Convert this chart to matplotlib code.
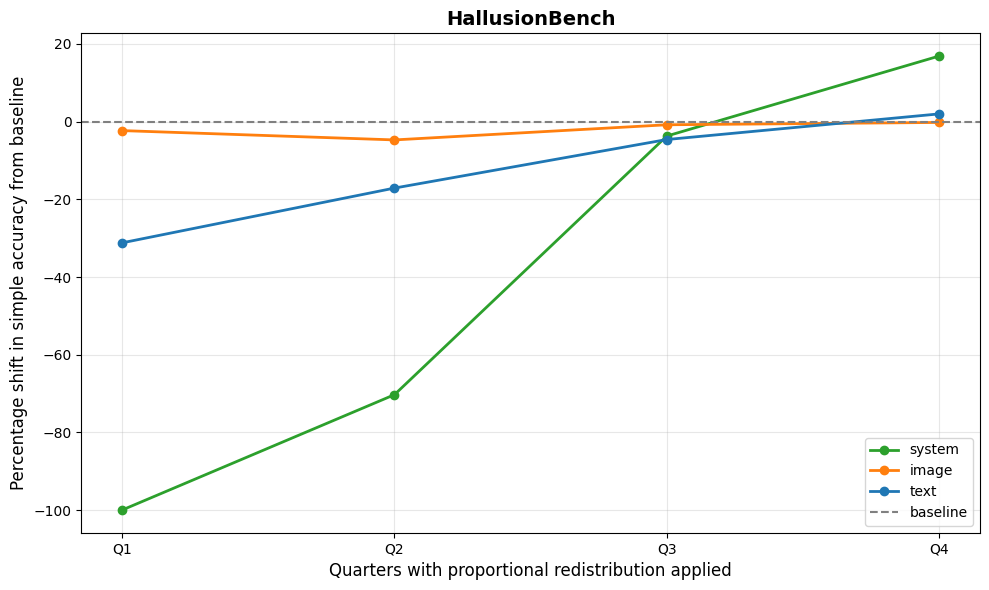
import matplotlib.pyplot as plt

quarters = ['Q1', 'Q2', 'Q3', 'Q4']
system = [-100.0, -70.3, -3.7, 16.9]
image = [-2.3, -4.7, -0.8, -0.2]
text = [-31.2, -17.1, -4.6, 2.0]

fig, ax = plt.subplots(figsize=(10, 6), dpi=100)

ax.plot(quarters, system, marker='o', linewidth=2, color='#2ca02c', label='system')
ax.plot(quarters, image, marker='o', linewidth=2, color='#ff7f0e', label='image')
ax.plot(quarters, text, marker='o', linewidth=2, color='#1f77b4', label='text')
ax.axhline(0, color='gray', linestyle='--', linewidth=1.5, label='baseline')

ax.set_title('HallusionBench', fontsize=14, fontweight='bold')
ax.set_xlabel('Quarters with proportional redistribution applied', fontsize=12)
ax.set_ylabel('Percentage shift in simple accuracy from baseline', fontsize=12)
ax.grid(True, alpha=0.3)
ax.legend(loc='lower right')

plt.tight_layout()
plt.savefig('out.png', bbox_inches='tight')
